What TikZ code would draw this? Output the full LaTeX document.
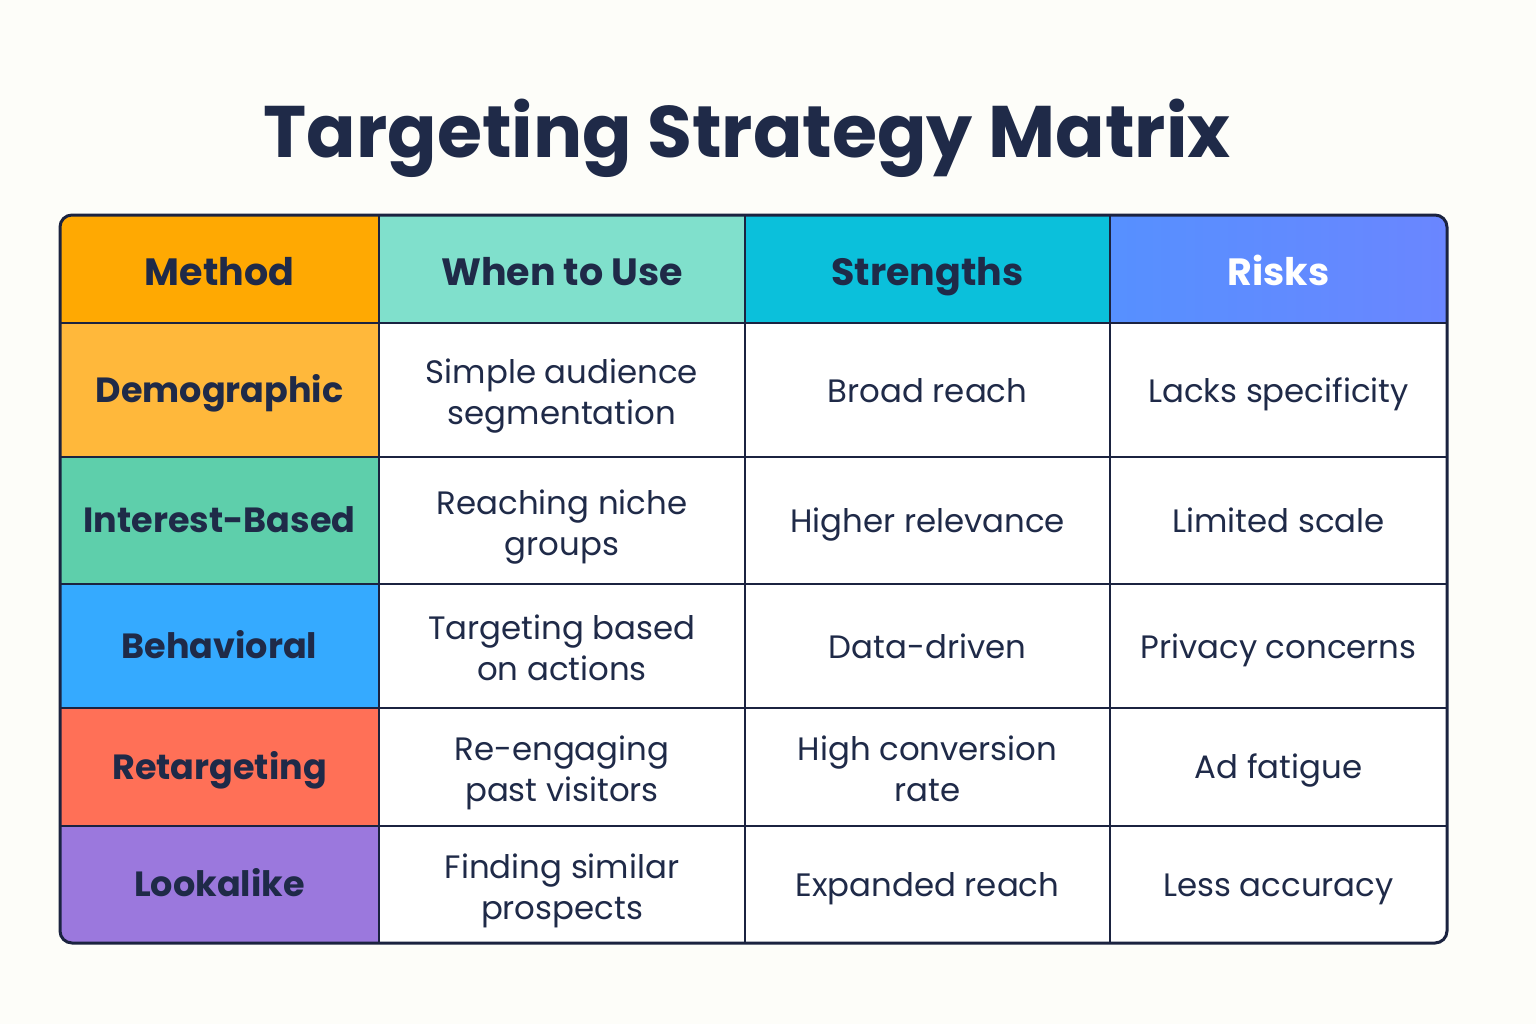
\documentclass[tikz,border=0pt]{standalone}
\usepackage{fontspec}
\setmainfont{Poppins}
\usetikzlibrary{positioning}
\definecolor{pagebg}{HTML}{FDFDF9}
\definecolor{ink}{HTML}{1F2A48}
\definecolor{gridline}{HTML}{1B2340}
\definecolor{hmethod}{HTML}{FFA902}
\definecolor{hwhen}{HTML}{80E0CC}
\definecolor{hstrength}{HTML}{0BC0DB}
\definecolor{hriskL}{HTML}{5690FF}
\definecolor{hriskR}{HTML}{6A86FF}
\definecolor{rdemo}{HTML}{FFB83B}
\definecolor{rinterest}{HTML}{5ECFAB}
\definecolor{rbehav}{HTML}{35AAFF}
\definecolor{rretarget}{HTML}{FF7057}
\definecolor{rlook}{HTML}{9B78DD}

\begin{document}
\begin{tikzpicture}[
x=0.5pt, y=-0.5pt,
every node/.style={
    inner sep=0pt,
    outer sep=0pt,
    align=center,
    text=ink,
    },
cell/.style={
    draw=gridline,
    line width=1.2pt,
    fill=white,
    font=\fontsize{16.2}{20.5}\selectfont,
    execute at begin node={\rule{0pt}{16.3pt}},
    execute at end node={\rule[-4.2pt]{0pt}{4.2pt}},
    },
twoline/.style={
    text height=37.8pt,
    text depth=3.2pt,
    },
headcell/.style={
    draw=gridline,
    line width=1.2pt,
    font=\fontsize{19}{23}\selectfont\bfseries,
    text height=16pt,
    text depth=0pt,
    },
rowcell/.style={
    draw=gridline,
    line width=1.2pt,
    font=\fontsize{17.5}{21}\selectfont\bfseries,
    text height=12.4pt,
    text depth=0pt,
    },
colA/.style={minimum width=159.5pt},
colB/.style={minimum width=183pt},
colC/.style={minimum width=182.5pt},
colD/.style={minimum width=168.5pt},
]
\fill[pagebg] (0,0) rectangle (1536,1024);

\node[font=\fontsize{36.5}{40}\selectfont\bfseries, anchor=base] (title)
     at (747,157) {Targeting Strategy Matrix};

\begin{scope}
\clip[rounded corners=6pt] (60,215) rectangle (1447,943);
% header row
\node[headcell, colA, fill=hmethod, minimum height=54pt, anchor=north west]
     (method) at (60,215) {Method};
\node[headcell, colB, fill=hwhen, minimum height=54pt, right=0pt of method]
     (when) {When to Use};
\node[headcell, colC, fill=hstrength, minimum height=54pt, right=0pt of when]
     (strength) {Strengths};
\node[headcell, colD, left color=hriskL, right color=hriskR, text=white,
      minimum height=54pt, right=0pt of strength] (risk) {Risks};
% demographic
\node[rowcell, colA, fill=rdemo, minimum height=67pt, below=0pt of method]
     (demo) {Demographic};
\node[cell, twoline, colB, minimum height=67pt, right=0pt of demo]
     (demowhen) {Simple audience\\segmentation};
\node[cell, colC, minimum height=67pt, right=0pt of demowhen]
     (demostrength) {Broad reach};
\node[cell, colD, minimum height=67pt, right=0pt of demostrength]
     (demorisk) {Lacks specificity};
% interest-based
\node[rowcell, colA, fill=rinterest, minimum height=63.5pt, below=0pt of demo]
     (interest) {Interest-Based};
\node[cell, twoline, colB, minimum height=63.5pt, right=0pt of interest]
     (interestwhen) {Reaching niche\\groups};
\node[cell, colC, minimum height=63.5pt, right=0pt of interestwhen]
     (intereststrength) {Higher relevance};
\node[cell, colD, minimum height=63.5pt, right=0pt of intereststrength]
     (interestrisk) {Limited scale};
% behavioral
\node[rowcell, colA, fill=rbehav, minimum height=62pt, below=0pt of interest]
     (behav) {Behavioral};
\node[cell, twoline, colB, minimum height=62pt, right=0pt of behav]
     (behavwhen) {Targeting based\\on actions};
\node[cell, colC, minimum height=62pt, right=0pt of behavwhen]
     (behavstrength) {Data-driven};
\node[cell, colD, minimum height=62pt, right=0pt of behavstrength]
     (behavrisk) {Privacy concerns};
% retargeting
\node[rowcell, colA, fill=rretarget, minimum height=59pt, below=0pt of behav]
     (retarget) {Retargeting};
\node[cell, twoline, colB, minimum height=59pt, right=0pt of retarget]
     (retargetwhen) {Re-engaging\\past visitors};
\node[cell, twoline, colC, minimum height=59pt, right=0pt of retargetwhen]
     (retargetstrength) {High conversion\\rate};
\node[cell, colD, minimum height=59pt, right=0pt of retargetstrength]
     (retargetrisk) {Ad fatigue};
% lookalike
\node[rowcell, colA, fill=rlook, minimum height=58.5pt, below=0pt of retarget]
     (look) {Lookalike};
\node[cell, twoline, colB, minimum height=58.5pt, right=0pt of look]
     (lookwhen) {Finding similar\\prospects};
\node[cell, colC, minimum height=58.5pt, right=0pt of lookwhen]
     (lookstrength) {Expanded reach};
\node[cell, colD, minimum height=58.5pt, right=0pt of lookstrength]
     (lookrisk) {Less accuracy};
\end{scope}

\draw[gridline, line width=1.5pt, rounded corners=6pt]
     (method.north west) rectangle (lookrisk.south east);
\end{tikzpicture}
\end{document}
